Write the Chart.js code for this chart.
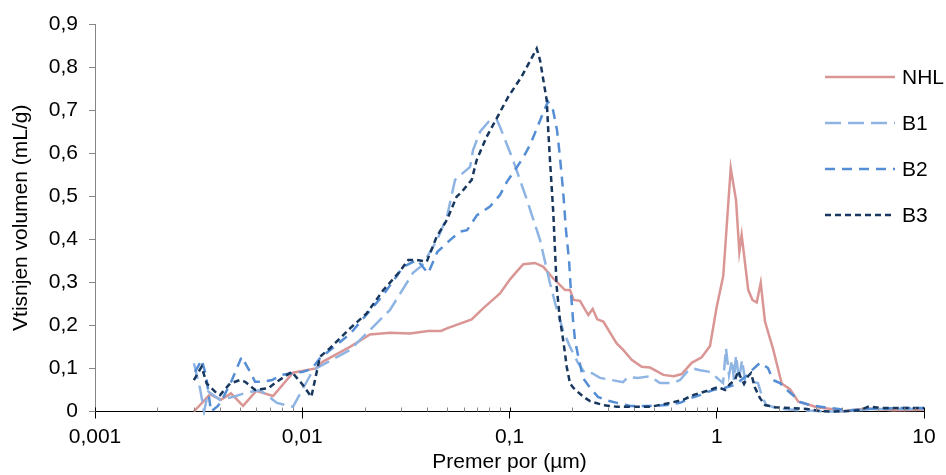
<!DOCTYPE html>
<html>
<head>
<meta charset="utf-8">
<script src="https://cdn.jsdelivr.net/npm/chart.js@4.4.1/dist/chart.umd.min.js"></script>
<style>
html, body { margin: 0; padding: 0; background: #ffffff; }
#c { display: block; }
</style>
</head>
<body>
<canvas id="c" width="946" height="475"></canvas>
<script>
// ---- Data (pore diameter in µm, intruded volume in mL/g) ----
const seriesNames = ['NHL', 'B1', 'B2', 'B3'];

const nhlX = [0.0030,0.00359,0.00405,0.00453,0.00518,0.0060,0.00723,0.00902,0.01161,0.01259,0.017,0.02123,0.02651,0.0331,0.0405,0.0467,0.0499,0.0657,0.0748,0.09,0.1006,0.1083,0.1166,0.1327,0.1456,0.1627,0.1853,0.1959,0.204,0.2188,0.2399,0.2519,0.2652,0.2836,0.3289,0.3537,0.3886,0.4345,0.4764,0.5529,0.6195,0.6775,0.7566,0.8459,0.9278,0.9995,1.075,1.168,1.239,1.285,1.319,1.419,1.487,1.559,1.63,1.709,1.875,2.058,2.256,2.475,2.818,3.035,3.656,3.933,5.293,7.114,10];
const nhlY = [0,0.04,0.027,0.042,0.013,0.048,0.036,0.09,0.1,0.116,0.15,0.179,0.183,0.181,0.187,0.187,0.193,0.214,0.24,0.274,0.307,0.325,0.342,0.345,0.336,0.309,0.282,0.282,0.259,0.257,0.224,0.238,0.214,0.209,0.158,0.143,0.12,0.104,0.102,0.085,0.082,0.087,0.113,0.126,0.152,0.243,0.315,0.565,0.491,0.371,0.41,0.282,0.259,0.253,0.299,0.209,0.143,0.065,0.052,0.023,0.015,0.01,0.005,0,0.007,0.003,0.004];

const b1X = [0.0030,0.00321,0.00336,0.00352,0.00401,0.00465,0.0053,0.00625,0.00684,0.00755,0.00902,0.0101,0.01127,0.017,0.02651,0.03422,0.038,0.0447,0.0499,0.0546,0.0645,0.0667,0.0721,0.0805,0.087,0.09,0.104,0.1215,0.1404,0.1568,0.1695,0.1812,0.1959,0.214,0.2314,0.2501,0.2734,0.3123,0.353,0.3731,0.4169,0.4764,0.5324,0.615,0.6648,0.7186,0.7682,0.8302,0.9278,0.9917,1.072,1.108,1.146,1.185,1.211,1.239,1.28,1.324,1.369,1.48,1.581,1.653,1.73,2.02,2.522,3.52,4.395,5.49,7.66,10];
const b1Y = [0.112,0.054,0.0,0.046,0.027,0.034,0.043,0.05,0.036,0.02,0.011,0.054,0.096,0.143,0.236,0.322,0.34,0.398,0.452,0.538,0.568,0.607,0.65,0.677,0.677,0.661,0.584,0.491,0.398,0.298,0.235,0.189,0.15,0.113,0.089,0.089,0.078,0.073,0.068,0.08,0.078,0.082,0.066,0.066,0.073,0.092,0.1,0.096,0.092,0.08,0.066,0.147,0.085,0.12,0.073,0.131,0.073,0.12,0.073,0.069,0.066,0.036,0.015,0.006,0.003,0,0.001,0.006,0.006,0.006];

const b2X = [0.00304,0.00327,0.00343,0.00363,0.00392,0.0041,0.00458,0.0051,0.0056,0.00592,0.00639,0.00715,0.00799,0.00892,0.01008,0.0111,0.01218,0.017,0.02453,0.0307,0.0358,0.0405,0.0449,0.0516,0.0577,0.0624,0.0697,0.0805,0.09,0.0973,0.1063,0.1162,0.1256,0.1357,0.1451,0.1534,0.1622,0.1695,0.1752,0.1812,0.1874,0.1937,0.1981,0.2025,0.207,0.214,0.2263,0.2446,0.2673,0.2888,0.3301,0.3815,0.4764,0.5754,0.6648,0.743,0.8302,0.9592,1.096,1.225,1.369,1.48,1.617,1.767,1.868,2.02,2.182,2.385,2.522,2.818,3.52,4.395,5.49,7.66,10];
const b2Y = [0.092,0.12,0.085,0,0.013,0.027,0.073,0.127,0.092,0.069,0.069,0.073,0.085,0.089,0.092,0.099,0.124,0.18,0.27,0.336,0.352,0.321,0.371,0.398,0.418,0.421,0.456,0.476,0.503,0.534,0.561,0.589,0.619,0.658,0.693,0.72,0.7,0.654,0.591,0.515,0.42,0.352,0.275,0.213,0.166,0.131,0.078,0.055,0.034,0.027,0.02,0.013,0.013,0.015,0.02,0.031,0.038,0.05,0.055,0.062,0.08,0.096,0.113,0.101,0.073,0.066,0.05,0.034,0.022,0.015,0.008,0.003,0.006,0.008,0.008];

const b3X = [0.0030,0.00327,0.00346,0.00387,0.00401,0.00448,0.00501,0.0053,0.00592,0.00686,0.00753,0.00889,0.00994,0.01106,0.01218,0.01361,0.017,0.02046,0.02461,0.02906,0.03249,0.03579,0.03986,0.04454,0.0499,0.05557,0.05875,0.0657,0.06943,0.07759,0.08672,0.09867,0.1145,0.1353,0.1404,0.1512,0.1541,0.1568,0.1627,0.1658,0.1689,0.1752,0.1786,0.1853,0.1888,0.1959,0.204,0.2274,0.2446,0.2826,0.3301,0.3946,0.4764,0.5324,0.5948,0.6873,0.7682,0.8302,0.9278,1.014,1.096,1.159,1.225,1.266,1.309,1.354,1.415,1.463,1.53,1.617,1.709,1.91,2.256,2.726,3.149,3.638,4.395,4.912,5.368,5.613,6.135,7.66,10];
const b3Y = [0.073,0.104,0.065,0.042,0.038,0.065,0.073,0.069,0.05,0.054,0.069,0.092,0.065,0.034,0.127,0.147,0.193,0.228,0.282,0.321,0.352,0.352,0.348,0.406,0.445,0.499,0.51,0.538,0.584,0.638,0.681,0.731,0.778,0.843,0.816,0.723,0.646,0.584,0.461,0.374,0.29,0.212,0.189,0.135,0.104,0.065,0.054,0.034,0.024,0.015,0.011,0.011,0.011,0.015,0.02,0.027,0.038,0.043,0.05,0.057,0.05,0.064,0.073,0.094,0.078,0.064,0.082,0.089,0.055,0.031,0.015,0.01,0.008,0.006,0.001,0,0.001,0.003,0.011,0.011,0.008,0.008,0.008];

const xTickValues = [0.001, 0.01, 0.1, 1, 10];
const xTickLabels = ['0,001', '0,01', '0,1', '1', '10'];
const yTickValues = [0, 0.1, 0.2, 0.3, 0.4, 0.5, 0.6, 0.7, 0.8, 0.9];
const yTickLabels = ['0', '0,1', '0,2', '0,3', '0,4', '0,5', '0,6', '0,7', '0,8', '0,9'];

// ---- Helpers ----
function zip(xs, ys) {
  const n = Math.min(xs.length, ys.length);
  const out = [];
  for (let i = 0; i < n; i++) out.push({ x: xs[i], y: ys[i] });
  return out;
}

const FAMILY = "'Liberation Sans', Arial, sans-serif";
const FONT_SIZE = 21;

const styles = [
  { color: '#D99694', dash: [] },
  { color: '#8EB4E3', dash: [16, 7] },
  { color: '#558ED5', dash: [10, 7] },
  { color: '#17375E', dash: [6, 4] }
];
const seriesData = [zip(nhlX, nhlY), zip(b1X, b1Y), zip(b2X, b2Y), zip(b3X, b3Y)];

const datasets = seriesNames.map((name, i) => ({
  label: name,
  data: seriesData[i],
  borderColor: styles[i].color,
  backgroundColor: styles[i].color,
  borderDash: styles[i].dash,
  borderWidth: 2.5,
  pointRadius: 0,
  pointHoverRadius: 0,
  tension: 0,
  fill: false,
  clip: 4,
  order: seriesNames.length - i
}));

// Plugin: minor log ticks on x axis + custom legend inside plot area
const extras = {
  id: 'extras',
  afterDraw(chart) {
    const ctx = chart.ctx;
    const xs = chart.scales.x;
    const bottom = chart.chartArea.bottom;
    ctx.save();
    // minor ticks (inside, gray)
    ctx.lineWidth = 1;
    ctx.strokeStyle = '#868686';
    for (let e = -3; e < 1; e++) {
      for (let k = 2; k <= 9; k++) {
        const v = k * Math.pow(10, e);
        const px = Math.round(xs.getPixelForValue(v)) + 0.5;
        ctx.beginPath();
        ctx.moveTo(px, bottom - 4);
        ctx.lineTo(px, bottom);
        ctx.stroke();
      }
    }
    // upper part of major ticks
    ctx.strokeStyle = '#000';
    xTickValues.forEach(v => {
      const px = Math.round(xs.getPixelForValue(v)) + 0.5;
      ctx.beginPath();
      ctx.moveTo(px, bottom - 4);
      ctx.lineTo(px, bottom);
      ctx.stroke();
    });
    // legend
    const lx0 = 825, lx1 = 895, tx = 902, y0 = 77, step = 46;
    ctx.font = FONT_SIZE + 'px ' + FAMILY;
    ctx.textAlign = 'left';
    ctx.textBaseline = 'middle';
    chart.data.datasets.forEach((ds, i) => {
      const y = y0 + i * step;
      ctx.save();
      ctx.strokeStyle = ds.borderColor;
      ctx.lineWidth = ds.borderWidth;
      ctx.setLineDash(ds.borderDash || []);
      ctx.beginPath();
      ctx.moveTo(lx0, y);
      ctx.lineTo(lx1, y);
      ctx.stroke();
      ctx.restore();
      ctx.fillStyle = '#000';
      ctx.fillText(ds.label, tx, y + 1);
    });
    ctx.restore();
  }
};

new Chart(document.getElementById('c'), {
  type: 'line',
  data: { datasets },
  options: {
    responsive: false,
    animation: false,
    devicePixelRatio: 1,
    layout: { padding: { top: 24, right: 22, left: 0, bottom: 0 } },
    plugins: {
      legend: { display: false },
      tooltip: { enabled: false }
    },
    scales: {
      x: {
        type: 'logarithmic',
        min: 0.001,
        max: 10,
        afterBuildTicks: s => { s.ticks = xTickValues.map(v => ({ value: v, major: false })); },
        afterFit: s => { s.height = 63.5; },
        ticks: {
          autoSkip: false,
          maxRotation: 0,
          padding: 6,
          color: '#000',
          font: { family: FAMILY, size: FONT_SIZE },
          callback: (v, i) => xTickLabels[i]
        },
        grid: {
          display: true,
          drawOnChartArea: false,
          drawTicks: true,
          tickLength: 7,
          tickColor: '#000',
          tickWidth: 1
        },
        border: { display: true, color: '#000', width: 1 },
        title: {
          display: true,
          text: 'Premer por (µm)',
          color: '#000',
          font: { family: FAMILY, size: FONT_SIZE },
          padding: { top: 0, bottom: 0 }
        }
      },
      y: {
        type: 'linear',
        min: 0,
        max: 0.9,
        afterBuildTicks: s => { s.ticks = yTickValues.map(v => ({ value: v })); },
        afterFit: s => { s.width = 95; },
        ticks: {
          padding: 11,
          color: '#000',
          font: { family: FAMILY, size: FONT_SIZE },
          callback: (v, i) => yTickLabels[i]
        },
        grid: {
          display: true,
          drawOnChartArea: false,
          drawTicks: true,
          tickLength: 6,
          tickColor: '#868686'
        },
        border: { display: true, color: '#868686', width: 1 },
        title: {
          display: true,
          text: 'Vtisnjen volumen (mL/g)',
          color: '#000',
          font: { family: FAMILY, size: FONT_SIZE },
          padding: { top: 9, bottom: 0 }
        }
      }
    }
  },
  plugins: [extras]
});
</script>
</body>
</html>
